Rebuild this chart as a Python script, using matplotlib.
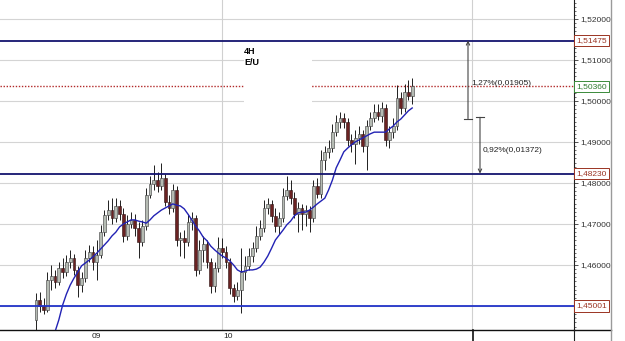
import matplotlib
matplotlib.use("Agg")
import matplotlib.pyplot as plt
from matplotlib.lines import Line2D
from matplotlib.patches import Rectangle
from matplotlib.ticker import MultipleLocator, FuncFormatter
import matplotlib.transforms as mtrans

plt.rcParams['font.family'] = ['Liberation Sans', 'DejaVu Sans']

# ---------------- data ----------------
opens = [1.4466, 1.4515, 1.4500, 1.4490, 1.4563, 1.4573, 1.4559, 1.4593, 1.4583, 1.4607,
         1.4617, 1.4588, 1.4551, 1.4568, 1.4617, 1.4632, 1.4607, 1.4624, 1.4680, 1.4722,
         1.4734, 1.4715, 1.4744, 1.4724, 1.4671, 1.4700, 1.4710, 1.4690, 1.4656, 1.4695,
         1.4771, 1.4798, 1.4807, 1.4793, 1.4812, 1.4754, 1.4739, 1.4783, 1.4661, 1.4666,
         1.4656, 1.4705, 1.4715, 1.4588, 1.4637, 1.4651, 1.4607, 1.4549, 1.4593, 1.4641,
         1.4632, 1.4607, 1.4544, 1.4524, 1.4539, 1.4583, 1.4598, 1.4622, 1.4641, 1.4671,
         1.4690, 1.4739, 1.4749, 1.4720, 1.4695, 1.4715, 1.4768, 1.4783, 1.4763, 1.4724,
         1.4739, 1.4724, 1.4734, 1.4715, 1.4793, 1.4773, 1.4856, 1.4876, 1.4885, 1.4924,
         1.4949, 1.4959, 1.4949, 1.4905, 1.4895, 1.4910, 1.4920, 1.4890, 1.4939, 1.4959,
         1.4973, 1.4963, 1.4983, 1.4905, 1.4924, 1.4939, 1.5007, 1.4983, 1.5022, 1.5012]
highs = [1.4532, 1.4534, 1.4520, 1.4583, 1.4600, 1.4588, 1.4607, 1.4617, 1.4624, 1.4637,
         1.4627, 1.4598, 1.4583, 1.4637, 1.4649, 1.4646, 1.4661, 1.4698, 1.4734, 1.4759,
         1.4763, 1.4763, 1.4759, 1.4739, 1.4722, 1.4729, 1.4724, 1.4705, 1.4710, 1.4788,
         1.4817, 1.4844, 1.4827, 1.4849, 1.4822, 1.4771, 1.4798, 1.4793, 1.4680, 1.4685,
         1.4724, 1.4729, 1.4722, 1.4661, 1.4671, 1.4661, 1.4617, 1.4607, 1.4668, 1.4666,
         1.4646, 1.4617, 1.4554, 1.4559, 1.4641, 1.4622, 1.4641, 1.4656, 1.4695, 1.4710,
         1.4759, 1.4763, 1.4759, 1.4739, 1.4729, 1.4788, 1.4817, 1.4807, 1.4778, 1.4754,
         1.4749, 1.4746, 1.4744, 1.4807, 1.4812, 1.4880, 1.4890, 1.4905, 1.4944, 1.4966,
         1.4973, 1.4971, 1.4959, 1.4920, 1.4929, 1.4939, 1.4929, 1.4954, 1.4973, 1.4993,
         1.4993, 1.4998, 1.4993, 1.4939, 1.4959, 1.5039, 1.5022, 1.5041, 1.5051, 1.5056]
lows = [1.4441, 1.4485, 1.4480, 1.4485, 1.4539, 1.4544, 1.4551, 1.4568, 1.4573, 1.4593,
        1.4576, 1.4522, 1.4534, 1.4559, 1.4607, 1.4588, 1.4563, 1.4617, 1.4671, 1.4710,
        1.4700, 1.4705, 1.4710, 1.4656, 1.4661, 1.4690, 1.4671, 1.4617, 1.4646, 1.4685,
        1.4763, 1.4783, 1.4778, 1.4783, 1.4744, 1.4724, 1.4729, 1.4646, 1.4622, 1.4617,
        1.4646, 1.4685, 1.4573, 1.4578, 1.4607, 1.4593, 1.4532, 1.4534, 1.4583, 1.4617,
        1.4593, 1.4529, 1.4510, 1.4515, 1.4483, 1.4563, 1.4588, 1.4607, 1.4632, 1.4661,
        1.4680, 1.4724, 1.4705, 1.4680, 1.4676, 1.4705, 1.4759, 1.4749, 1.4715, 1.4680,
        1.4685, 1.4695, 1.4680, 1.4705, 1.4763, 1.4763, 1.4832, 1.4861, 1.4876, 1.4915,
        1.4934, 1.4934, 1.4890, 1.4876, 1.4846, 1.4895, 1.4876, 1.4832, 1.4929, 1.4949,
        1.4954, 1.4949, 1.4890, 1.4885, 1.4910, 1.4929, 1.4968, 1.4973, 1.5002, 1.4993]
closes = [1.4515, 1.4500, 1.4490, 1.4563, 1.4573, 1.4559, 1.4593, 1.4583, 1.4607, 1.4617,
          1.4588, 1.4551, 1.4568, 1.4617, 1.4632, 1.4607, 1.4624, 1.4680, 1.4722, 1.4734,
          1.4715, 1.4744, 1.4724, 1.4671, 1.4700, 1.4710, 1.4690, 1.4656, 1.4695, 1.4771,
          1.4798, 1.4807, 1.4793, 1.4812, 1.4754, 1.4739, 1.4783, 1.4661, 1.4666, 1.4656,
          1.4705, 1.4715, 1.4588, 1.4637, 1.4651, 1.4607, 1.4549, 1.4593, 1.4641, 1.4632,
          1.4607, 1.4544, 1.4524, 1.4539, 1.4583, 1.4598, 1.4622, 1.4641, 1.4671, 1.4690,
          1.4739, 1.4749, 1.4720, 1.4695, 1.4715, 1.4768, 1.4783, 1.4763, 1.4724, 1.4739,
          1.4724, 1.4734, 1.4715, 1.4793, 1.4773, 1.4856, 1.4876, 1.4885, 1.4924, 1.4949,
          1.4959, 1.4949, 1.4905, 1.4895, 1.4910, 1.4920, 1.4890, 1.4939, 1.4959, 1.4973,
          1.4963, 1.4983, 1.4905, 1.4924, 1.4939, 1.5007, 1.4983, 1.5022, 1.5012, 1.5036]

# moving average (starts at candle 5)
ma_start = 5
ma_values = [1.4437, 1.4466, 1.4502, 1.4529, 1.4551, 1.4568, 1.4583, 1.4598, 1.4605, 1.4612,
             1.4620, 1.4629, 1.4639, 1.4649, 1.4659, 1.4671, 1.4680, 1.4693, 1.4700, 1.4705,
             1.4710, 1.4710, 1.4707, 1.4705, 1.4702, 1.4710, 1.4720, 1.4727, 1.4734, 1.4739,
             1.4744, 1.4749, 1.4746, 1.4744, 1.4737, 1.4724, 1.4710, 1.4695, 1.4683, 1.4668,
             1.4659, 1.4646, 1.4637, 1.4629, 1.4622, 1.4617, 1.4610, 1.4600, 1.4588, 1.4583,
             1.4585, 1.4588, 1.4588, 1.4590, 1.4595, 1.4607, 1.4622, 1.4641, 1.4661, 1.4673,
             1.4685, 1.4698, 1.4707, 1.4720, 1.4727, 1.4729, 1.4729, 1.4734, 1.4741, 1.4749,
             1.4756, 1.4763, 1.4783, 1.4807, 1.4837, 1.4856, 1.4876, 1.4885, 1.4893, 1.4900,
             1.4905, 1.4910, 1.4915, 1.4920, 1.4924, 1.4924, 1.4924, 1.4924, 1.4932, 1.4939,
             1.4949, 1.4956, 1.4966, 1.4976, 1.4983]

levels = [1.51475, 1.48230, 1.45001]
level_colors = ['#14146e', '#14146e', '#2233c8']
last_price = 1.50360
y_ticks = [1.45, 1.46, 1.47, 1.48, 1.49, 1.50, 1.51, 1.52]
y_tick_labels = ['', '1,46000', '1,47000', '1,48000', '1,49000', '1,50000', '1,51000', '1,52000']
date_labels = ['09', '10']
date_pos = [16.0, 49.4]
vgrid_pos = [49.0, 114.7]

up_pct_text = '1,27%(0,01905)'
dn_pct_text = '0,92%(0,01372)'
up_move = 0.01905
dn_move = 0.01372

# ---------------- figure ----------------
W, H = 625, 341
fig = plt.figure(figsize=(W / 100, H / 100), dpi=100)
fig.patch.set_facecolor('white')
ax = fig.add_axes([0, 11 / H, 574 / W, 330 / H])
ax.set_facecolor('white')

x0px, dx = 36.0, 3.8
ax.set_xlim(-x0px / dx, (574 - x0px) / dx)
ax.set_ylim(1.52 - 311 / 4100, 1.52 + 19 / 4100)

def px2i(px):
    return (px - x0px) / dx

# grid
for v in y_ticks:
    ax.axhline(v, color='#d4d4d4', lw=0.8, zorder=1)
for v in vgrid_pos:
    ax.axvline(v, color='#d0d0d0', lw=0.8, zorder=1)

# red dotted last price
ax.axhline(last_price, color='#b22a2a', lw=1.0, ls=(0, (1, 1.2)), zorder=1.5)

# white label box hiding grid
ax.add_patch(Rectangle((px2i(244), 1.4990), px2i(312) - px2i(244), 1.5137 - 1.4990,
                       facecolor='white', edgecolor='none', zorder=2))
ax.text(px2i(244), 1.5120, '4H', fontsize=6.5, fontweight='bold', ha='left', va='center', zorder=6)
ax.text(px2i(244), 1.5093, 'E/U', fontsize=6.5, fontweight='bold', ha='left', va='center', zorder=6)

# levels
for lv, c in zip(levels, level_colors):
    ax.axhline(lv, color=c, lw=1.3, zorder=4)

# candles
n = len(closes)
xs = list(range(n))
ax.vlines(xs, lows, highs, color='#1e1e1e', lw=0.7, zorder=3)
up_x = [i for i in xs if closes[i] >= opens[i]]
dn_x = [i for i in xs if closes[i] < opens[i]]
ax.bar(up_x, [closes[i] - opens[i] + 0.00005 for i in up_x], bottom=[opens[i] for i in up_x],
       width=0.75, color='#b5bbb3', edgecolor='#3a3a3a', lw=0.4, zorder=3.2)
ax.bar(dn_x, [opens[i] - closes[i] for i in dn_x], bottom=[closes[i] for i in dn_x],
       width=0.75, color='#6a2222', edgecolor='#2a1010', lw=0.4, zorder=3.2)

# moving average
ax.plot(range(ma_start, ma_start + len(ma_values)), ma_values, color='#2222b4', lw=1.0, zorder=3.5)

# measurement arrows
ax_i1 = px2i(468)
ax.annotate('', xy=(ax_i1, levels[0]), xytext=(ax_i1, levels[0] - up_move),
            arrowprops=dict(arrowstyle='->', color='#444444', lw=0.8, shrinkA=0, shrinkB=0,
                            mutation_scale=6), zorder=5)
ax.plot([ax_i1 - 1.0, ax_i1 + 1.0], [levels[0] - up_move] * 2, color='#444444', lw=0.8, zorder=5)
ax.text(px2i(471), 1.5043, up_pct_text, fontsize=6, color='#222222', ha='left', va='center', zorder=6)

ax_i2 = px2i(480)
ax.annotate('', xy=(ax_i2, levels[1]), xytext=(ax_i2, levels[1] + dn_move),
            arrowprops=dict(arrowstyle='->', color='#444444', lw=0.8, shrinkA=0, shrinkB=0,
                            mutation_scale=6), zorder=5)
ax.plot([ax_i2 - 1.0, ax_i2 + 1.0], [levels[1] + dn_move] * 2, color='#444444', lw=0.8, zorder=5)
ax.text(px2i(483), 1.4880, dn_pct_text, fontsize=6, color='#222222', ha='left', va='center', zorder=6)

# axes styling
for s in ['top', 'left']:
    ax.spines[s].set_visible(False)
ax.spines['right'].set_color('#202020')
ax.spines['right'].set_linewidth(0.8)
ax.spines['bottom'].set_color('#101010')
ax.spines['bottom'].set_linewidth(1.0)
ax.set_xticks([])
ax.yaxis.tick_right()
ax.set_yticks(y_ticks)
ax.set_yticklabels(y_tick_labels)
ax.yaxis.set_minor_locator(MultipleLocator(0.001))
ax.tick_params(axis='y', which='major', length=3, width=0.6, labelsize=6, pad=1.5,
               colors='#333333')
ax.tick_params(axis='y', which='minor', length=1.5, width=0.5, color='#333333')

# right-side price boxes
trans = mtrans.blended_transform_factory(ax.transAxes, ax.transData)
box_specs = [(levels[0], '#9a3322', '#9a3322'), (levels[1], '#9a3322', '#9a3322'),
             (levels[2], '#9a3322', '#9a3322'), (last_price, '#3a8a3a', '#2f7a2f')]
for val, ec, tc in box_specs:
    ax.text(1.004, val, f"{val:.5f}".replace('.', ','), transform=trans, fontsize=6,
            color=tc, ha='left', va='center', zorder=7, clip_on=False,
            bbox=dict(boxstyle='square,pad=0.25', facecolor='white', edgecolor=ec, lw=0.7))

# date labels
transx = mtrans.blended_transform_factory(ax.transData, fig.transFigure)
ax.text(date_pos[0], 1 - 336 / H, date_labels[0], transform=transx, fontsize=6,
        ha='center', va='center', clip_on=False, color='#222222')
ax.text(date_pos[1], 1 - 336 / H, date_labels[1], transform=transx, fontsize=6,
        ha='left', va='center', clip_on=False, color='#222222')

# figure-level lines
def fline(xa, ya, xb, yb, **kw):
    fig.add_artist(Line2D([xa / W, xb / W], [1 - ya / H, 1 - yb / H],
                          transform=fig.transFigure, **kw))

fline(574, 330, 611, 330, color='#101010', lw=1.0)
fline(574, 330, 574, 341, color='#202020', lw=0.8)
fline(611, 0, 611, 341, color='#9a9a9a', lw=1.0)
fline(473, 330, 473, 341, color='#101010', lw=1.2)

fig.savefig('out.png', dpi=100)
